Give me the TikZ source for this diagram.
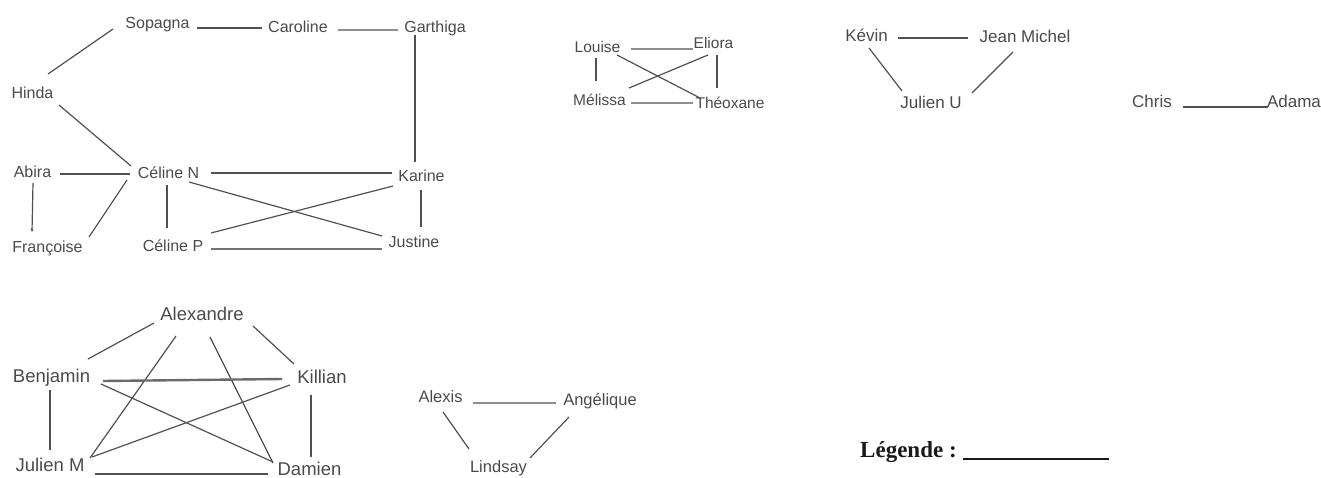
\documentclass[tikz,border=0pt]{standalone}
\usepackage{fontspec}
\setmainfont{Liberation Sans}
\newfontfamily\legfont{Liberation Serif}
\usetikzlibrary{arrows.meta}
\definecolor{txt}{HTML}{4A4A4A}
\definecolor{edg}{HTML}{505050}
\definecolor{edgl}{HTML}{8E8E8E}
\begin{document}
\begin{tikzpicture}[x=1pt,y=-1pt,
  lbl/.style={anchor=base,inner sep=0pt,text=txt},
  fsa/.style={lbl,font=\fontsize{16}{19}\selectfont},
  fsb/.style={lbl,font=\fontsize{15.5}{18}\selectfont},
  fsc/.style={lbl,font=\fontsize{17}{20}\selectfont},
  fsd/.style={lbl,font=\fontsize{18.5}{22}\selectfont},
  fse/.style={lbl,font=\fontsize{16.5}{20}\selectfont},
  ln/.style={draw=edg,line width=1.2pt},
  lnl/.style={draw=edgl,line width=2.4pt},
  lnd/.style={draw=edg,line width=1.8pt}]
\useasboundingbox (0,0) rectangle (1321,477);
% ---- group 1
\node[fsa] (sop) at (157.5,28) {Sopagna};
\node[fsa] (car) at (298,32) {Caroline};
\node[fsa] (gar) at (435,32) {Garthiga};
\node[fsa] (hin) at (32.5,98) {Hinda};
\node[fsa] (abi) at (32.5,177) {Abira};
\node[fsa] (celn) at (168.5,178) {Céline N};
\node[fsa] (kar) at (421.5,181) {Karine};
\node[fsa] (fra) at (47.5,252) {Françoise};
\node[fsa] (celp) at (173,251) {Céline P};
\node[fsa] (jus) at (414,247) {Justine};
\draw[lnd] ([shift={(39.5,0)}]sop.base) -- ([shift={(-36,-4)}]car.base);
\draw[lnl] ([shift={(40,-2)}]car.base) -- ([shift={(-37,-2)}]gar.base);
\draw[ln] ([shift={(-20,3)}]gar.base) -- ([shift={(-6.5,-19)}]kar.base);
\draw[ln] ([shift={(-44.5,1)}]sop.base) -- ([shift={(15.5,-24)}]hin.base);
\draw[ln] ([shift={(26.5,7)}]hin.base) -- ([shift={(-37.5,-12)}]celn.base);
\draw[ln] ([shift={(27.5,-3)}]abi.base) -- ([shift={(-38.5,-4)}]celn.base);
\draw[ln,-{Stealth[length=3.5pt,width=3pt]}] ([shift={(0.5,6)}]abi.base) -- ([shift={(-15.5,-20)}]fra.base);
\draw[ln] ([shift={(-41.5,2)}]celn.base) -- ([shift={(41.5,-15)}]fra.base);
\draw[ln] ([shift={(-1.5,7)}]celn.base) -- ([shift={(-6,-23)}]celp.base);
\draw[lnd] ([shift={(42.5,-5)}]celn.base) -- ([shift={(-29.5,-8)}]kar.base);
\draw[ln] ([shift={(20.5,4)}]celn.base) -- ([shift={(-32,-11)}]jus.base);
\draw[ln] ([shift={(-28.5,5)}]kar.base) -- ([shift={(38,-18)}]celp.base);
\draw[ln] ([shift={(-0.5,9)}]kar.base) -- ([shift={(7,-20)}]jus.base);
\draw[lnl,draw=edg!80] ([shift={(38,-2)}]celp.base) -- ([shift={(-32,2)}]jus.base);
% ---- group 2
\node[fsb] (lou) at (597.5,52) {Louise};
\node[fsb] (eli) at (713.5,48) {Eliora};
\node[fsb] (mel) at (599.5,105) {Mélissa};
\node[fsb] (the) at (730,108) {Théoxane};
\draw[lnl] ([shift={(33.5,-3)}]lou.base) -- ([shift={(-20.5,1)}]eli.base);
\draw[ln] ([shift={(-1.5,6)}]lou.base) -- ([shift={(-3.5,-24)}]mel.base);
\draw[ln] ([shift={(3.5,7)}]eli.base) -- ([shift={(-13,-20)}]the.base);
\draw[lnl] ([shift={(31.5,-2)}]mel.base) -- ([shift={(-37,-5)}]the.base);
\draw[ln] ([shift={(19.5,3)}]lou.base) -- ([shift={(-30,-10)}]the.base);
\draw[ln] ([shift={(29.5,-17)}]mel.base) -- ([shift={(-5.5,7)}]eli.base);
% ---- group 3
\node[fsc] (kev) at (866.5,41) {Kévin};
\node[fsc] (jm) at (1025,42) {Jean Michel};
\node[fsc] (jul) at (931,108) {Julien U};
\node[fsc] (chr) at (1152,107) {Chris};
\node[fsc] (ada) at (1294,107) {Adama};
\draw[lnd] ([shift={(31.5,-3)}]kev.base) -- ([shift={(-57,-4)}]jm.base);
\draw[ln] ([shift={(2.5,7)}]kev.base) -- ([shift={(-29,-17)}]jul.base);
\draw[ln] ([shift={(-12,10)}]jm.base) -- ([shift={(41,-15)}]jul.base);
\draw[lnd] ([shift={(31,0)}]chr.base) -- ([shift={(-26,0)}]ada.base);
% ---- group 4
\node[fsd] (ale) at (202,320) {Alexandre};
\node[fsd] (ben) at (51.5,382) {Benjamin};
\node[fsd] (kil) at (322,383) {Killian};
\node[fsd] (jum) at (50,471) {Julien M};
\node[fsd] (dam) at (309.5,475) {Damien};
\draw[ln] ([shift={(-48,3)}]ale.base) -- ([shift={(36.5,-23)}]ben.base);
\draw[ln] ([shift={(51,6)}]ale.base) -- ([shift={(-28,-19)}]kil.base);
\draw[ln] ([shift={(-26,16)}]ale.base) -- ([shift={(40,-13)}]jum.base);
\draw[ln] ([shift={(8,17)}]ale.base) -- ([shift={(-36.5,-12)}]dam.base);
\draw[lnl,draw=edg!85] ([shift={(51.5,-1)}]ben.base) -- ([shift={(-40,-4)}]kil.base);
\draw[ln] ([shift={(49.5,2)}]ben.base) -- ([shift={(-36.5,-13)}]dam.base);
\draw[ln] ([shift={(-1.5,8)}]ben.base) -- ([shift={(0,-21)}]jum.base);
\draw[ln] ([shift={(-32,2)}]kil.base) -- ([shift={(42,-14)}]jum.base);
\draw[ln] ([shift={(-11,12)}]kil.base) -- ([shift={(1.5,-18)}]dam.base);
\draw[lnd] ([shift={(45,3)}]jum.base) -- ([shift={(-41.5,-1)}]dam.base);
% ---- group 5
\node[fse] (alx) at (440.5,402.5) {Alexis};
\node[fse] (ang) at (600,405) {Angélique};
\node[fse] (lin) at (498.5,472) {Lindsay};
\draw[lnl] ([shift={(32.5,0.5)}]alx.base) -- ([shift={(-44,-2)}]ang.base);
\draw[ln] ([shift={(2.5,9.5)}]alx.base) -- ([shift={(-29.5,-23)}]lin.base);
\draw[ln] ([shift={(-31,12)}]ang.base) -- ([shift={(31.5,-14)}]lin.base);
% ---- legend
\node[anchor=base west,inner sep=0pt,text=black!90,font=\legfont\bfseries\fontsize{23}{27}\selectfont] (leg) at (860,457) {Légende :\hspace{6pt}\rule[-3pt]{146pt}{1.6pt}};
\end{tikzpicture}
\end{document}
